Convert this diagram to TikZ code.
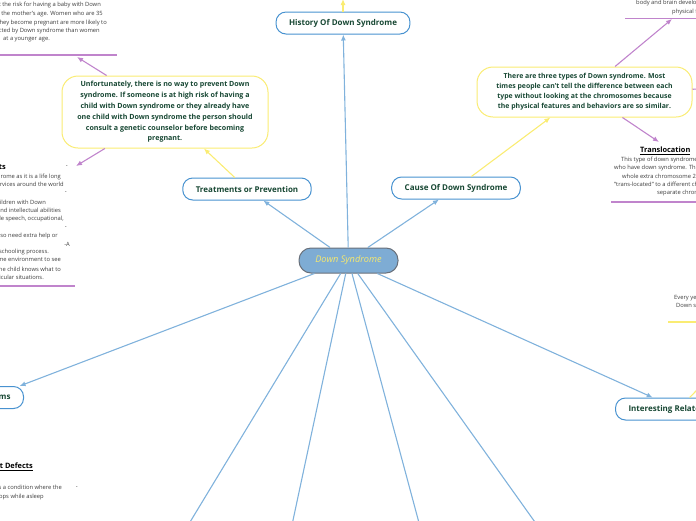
\documentclass[tikz,border=0pt]{standalone}
\usepackage{fontspec}
\setmainfont{Open Sans}
\usetikzlibrary{arrows.meta, positioning, calc}
\definecolor{vert}{RGB}{24,72,52}
\definecolor{bleu}{RGB}{72,146,208}
\definecolor{bleuclair}{RGB}{128,178,220}
\definecolor{jaune}{RGB}{250,236,115}
\definecolor{mauve}{RGB}{192,132,204}
\definecolor{gris}{RGB}{60,60,60}
\definecolor{centre}{RGB}{126,172,212}
\definecolor{bordcentre}{RGB}{105,112,122}
\definecolor{texcentre}{RGB}{246,232,110}

\begin{document}
\begin{tikzpicture}[x=1pt, y=-1pt,
  racine/.style={fill=centre, draw=bordcentre, line width=1pt, rounded corners=12pt, minimum width=99pt, minimum height=25pt, text=texcentre, font=\fontsize{9.2}{10}\selectfont\itshape},
  sujet/.style={draw=bleu, line width=1pt, rounded corners=10pt, fill=white, text=vert, font=\fontsize{8}{9}\selectfont\bfseries, inner xsep=13pt, inner ysep=0pt, minimum height=22pt},
  bulle/.style={draw=jaune, line width=1pt, rounded corners=16pt, fill=white, text=vert, align=center, font=\fontsize{7.1}{10.8}\selectfont\bfseries, inner sep=0pt},
  note/.style={text=gris, font=\fontsize{5.8}{8.5}\selectfont, inner sep=0pt},
  titre/.style={text=black, font=\fontsize{7.4}{8}\selectfont\bfseries, inner sep=0pt},
  lien/.style={bleuclair, line width=1.1pt, -{Latex[length=6pt,width=5pt]}},
  lienjaune/.style={jaune, line width=1.1pt, -{Latex[length=6pt,width=5pt]}},
  lienmauve/.style={mauve, line width=1.1pt, -{Latex[length=6pt,width=5pt]}}]

\useasboundingbox (0,0) rectangle (696,520);

% centre et sujets
\node[racine] (ds) at (348.5,260.5) {Down Syndrome};
\node[sujet] (histoire) at (343,23) {History Of Down Syndrome};
\node[sujet] (traitement) at (247,189) {Treatments or Prevention};
\node[sujet] (cause) at (456,188) {Cause Of Down Syndrome};
\node[sujet, anchor=east] (symptomes) at (24,397.5) {Symptoms};
\node[sujet, anchor=west] (faits) at (615,409) {Interesting Related Facts};

% bulles
\node[bulle, minimum width=206pt, minimum height=72pt] (prevention) at (165,112)
  {Unfortunately, there is no way to prevent Down\\ syndrome. If someone is at high risk of having a\\ child with Down syndrome or they already have\\ one child with Down syndrome the person should\\ consult a genetic counselor before becoming\\ pregnant.};
\node[bulle, minimum width=215pt, minimum height=50pt, font=\fontsize{6.9}{10}\selectfont\bfseries] (types) at (584.5,92)
  {There are three types of Down syndrome. Most\\ times people can't tell the difference between each\\ type without looking at the chromosomes because\\ the physical features and behaviors are so similar.};

% note en haut a gauche
\foreach \x/\y/\ligne [count=\i] in {
    101/5/{Doctors know that the risk for having a baby with Down},
    103/14/{syndrome increases with the mother's age. Women who are 35},
    107/23/{years or older when they become pregnant are more likely to},
    100/31/{pregnancy affected by Down syndrome than women},
    50/39/{at a younger age.}}
  \node[note, anchor=east] (age\i) at (\x,\y) {\ligne};
\draw[mauve, line width=1.1pt] (-40,55) -- (117,55);

% note a gauche
\node[titre, anchor=east] (therapietitre) at (6,167) {Treatments};
\foreach \x/\y/\ligne [count=\i] in {
    68/167/{-},
    61/177/{Therapy is needed for people with Down syndrome as it is a life long},
    64/185/{condition. There are many services around the world},
    67/193/{-},
    46/202/{Children with Down},
    61/211/{syndrome have physical and intellectual abilities},
    64/219/{that may need therapy which may include speech{,} occupational{,}},
    67/228/{-},
    58/236/{Some children may also need extra help or},
    70/244/{-A},
    49/252/{attention during the schooling process.},
    61/260/{It is important for the home environment to see},
    61/269/{to it that the child knows what to},
    44/278/{do in particular situations.}}
  \node[note, anchor=east] (therapie\i) at (\x,\y) {\ligne};
\draw[mauve, line width=1.1pt] (-40,286) -- (75,286);

% note en bas a gauche
\node[titre, anchor=east] (defauttitre) at (33,467) {\underline{Heart Defects}};
\node[note, anchor=east] (defaut1) at (62,488) {Sleep apnea is a condition where the};
\node[note, anchor=east] (defaut2) at (78,488) {-};
\node[note, anchor=east] (defaut3) at (44,497) {breathing stops while asleep};

% notes a droite
\node[note, anchor=west] (physique1) at (636,2.5) {body and brain development};
\node[note, anchor=west] (physique2) at (672,11.5) {physical features};
\draw[mauve, line width=1.1pt] (625,18.5) -- (710,18.5);

\node[titre, anchor=west] (transloctitre) at (640,151) {\underline{Translocation}};
\foreach \x/\y/\ligne [count=\i] in {
    621/160/{This type of down syndrome accounts for a small percentage of people},
    614/168/{who have down syndrome. This occurs when an extra part or a},
    622/177/{whole extra chromosome 21 is present but it is attached or},
    614/185/{"trans-located" to a different chromosome rather than being a},
    657/193/{separate chromosome 21.}}
  \node[note, anchor=west] (transloc\i) at (\x,\y) {\ligne};
\draw[mauve, line width=1.1pt] (611,202) -- (710,202);

\node[note, anchor=west] (chaque1) at (674,298) {Every year about 6{,}000 babies};
\node[note, anchor=west] (chaque2) at (676,306) {Down syndrome in the United States};
\draw[jaune, line width=1.1pt] (668,322) -- (710,322);

% bouts libres
\coordinate (histnote) at (343,-1);
\coordinate (agehaut) at (77,57);
\coordinate (therapie) at (76,166);
\coordinate (physique) at (672,19);
\coordinate (transloc) at (659,142);
\coordinate (typesdroite) at (740,88);
\coordinate (faitsnote) at ($(faits.center)!2.5!(695,392)$);
\coordinate (bas1) at (167,560);
\coordinate (bas2) at (284.5,560);
\coordinate (bas3) at (429,560);
\coordinate (bas4) at (562,560);

% liens
\draw[lien] (ds) -- (histoire);
\draw[lien] (ds) -- (traitement);
\draw[lien] (ds) -- (cause);
\draw[lien] (ds) -- (symptomes);
\draw[lien] (ds) -- (faits);
\foreach \b in {bas1,bas2,bas3,bas4}
  \draw[lien] (ds) -- (\b);

\draw[lienjaune] (histoire) -- (histnote);
\draw[lienjaune] (traitement) -- (prevention);
\draw[lienjaune] (cause) -- (types);
\draw[lienjaune] (faits) -- (faitsnote);

\draw[lienmauve] (prevention) -- (agehaut);
\draw[lienmauve] (prevention) -- (therapie);
\draw[lienmauve] (types) -- (physique);
\draw[lienmauve] (types) -- (transloc);
\draw[lienmauve] (types) -- (typesdroite);
\end{tikzpicture}
\end{document}
